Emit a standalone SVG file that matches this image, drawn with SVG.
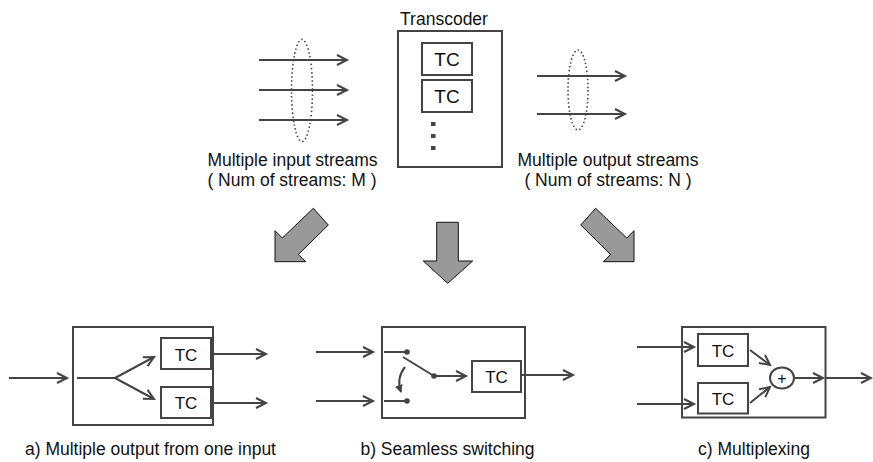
<svg xmlns="http://www.w3.org/2000/svg" width="873" height="462" viewBox="0 0 873 462">
<defs>
<style>
.ln{stroke:#444;stroke-width:2;fill:none}
.box{stroke:#444;stroke-width:2;fill:#fff}
.big{fill:#999;stroke:#111;stroke-width:1;stroke-linejoin:miter}
.dot{fill:#444}
.ell{stroke:#444;stroke-width:1.6;fill:none;stroke-dasharray:1.5 2.5}
text{font-family:"Liberation Sans",Arial,sans-serif;fill:#111}
.lbl{font-size:17.5px;text-anchor:middle}
.tc{font-size:17px;text-anchor:middle}
.tct{font-size:19px;text-anchor:middle}
</style>
<marker id="ah" markerUnits="userSpaceOnUse" markerWidth="14" markerHeight="14" refX="11" refY="6" orient="auto" viewBox="0 0 14 12">
<path d="M1,1 L11,6 L1,11" fill="none" stroke="#444" stroke-width="2"/>
</marker>
<marker id="ahs" markerUnits="userSpaceOnUse" markerWidth="10" markerHeight="10" refX="7" refY="4" orient="auto" viewBox="0 0 10 8">
<path d="M0,0 L8,4 L0,8 Z" fill="#444"/>
</marker>
</defs>

<g id="top-input-streams">
<g class="ln" marker-end="url(#ah)">
<line x1="259" y1="60" x2="347" y2="60"/>
<line x1="259" y1="90" x2="347" y2="90"/>
<line x1="259" y1="120" x2="347" y2="120"/>
</g>
<ellipse class="ell" cx="302" cy="90.5" rx="10.5" ry="51"/>
<text class="lbl" x="292.5" y="166">Multiple input streams</text>
<text class="lbl" x="292" y="186">( Num of streams: M )</text>
</g>

<g id="transcoder">
<text class="lbl" x="444" y="25">Transcoder</text>
<rect class="box" x="398" y="31" width="104" height="136"/>
<rect class="box" x="422" y="43" width="50" height="32"/>
<text class="tct" x="447" y="66">TC</text>
<rect class="box" x="422" y="80" width="50" height="32"/>
<text class="tct" x="447" y="103">TC</text>
<rect class="dot" x="431" y="122" width="4.5" height="4"/>
<rect class="dot" x="431" y="134" width="4.5" height="4"/>
<rect class="dot" x="431" y="146" width="4.5" height="4"/>
</g>

<g id="top-output-streams">
<g class="ln" marker-end="url(#ah)">
<line x1="537" y1="76" x2="625" y2="76"/>
<line x1="537" y1="114" x2="625" y2="114"/>
</g>
<ellipse class="ell" cx="578" cy="90" rx="10" ry="40"/>
<text class="lbl" x="608" y="166">Multiple output streams</text>
<text class="lbl" x="608" y="186">( Num of streams: N )</text>
</g>

<g id="big-arrows">
<polygon class="big" points="313.3,208.3 328.3,225 298.3,254.5 305.7,261.7 275,261.7 275,230.7 282.3,238"/>
<polygon class="big" points="436.7,222.3 458.3,222.3 458.3,261 472.7,261 447.7,283.3 423.3,261 436.7,261"/>
<polygon class="big" points="595.7,208.3 580.7,225 610.7,254.5 603.3,261.7 634,261.7 634,230.7 626.7,238"/>
</g>

<g id="case-a">
<rect class="box" x="73" y="327" width="140" height="98"/>
<rect class="box" x="161" y="338" width="50" height="31"/>
<text class="tc" x="186" y="361">TC</text>
<rect class="box" x="161" y="387" width="50" height="31"/>
<text class="tc" x="186" y="409">TC</text>
<text class="lbl" x="150.5" y="455">a) Multiple output from one input</text>
</g>

<g id="case-b">
<rect class="box" x="382" y="327" width="143" height="91"/>
<rect class="box" x="472" y="361" width="49" height="31"/>
<text class="tc" x="496.5" y="383">TC</text>
<circle class="dot" cx="407" cy="352" r="2.8"/>
<circle class="dot" cx="407" cy="401" r="2.8"/>
<circle class="dot" cx="434" cy="376" r="2.8"/>
<text class="lbl" x="447.5" y="455">b) Seamless switching</text>
</g>

<g id="case-c">
<rect class="box" x="682" y="327" width="143.5" height="90.5"/>
<rect class="box" x="698" y="334" width="50" height="32"/>
<text class="tc" x="723" y="357">TC</text>
<rect class="box" x="698" y="383" width="50" height="30.5"/>
<text class="tc" x="723" y="405">TC</text>
<ellipse class="box" cx="782" cy="378" rx="12" ry="10.5"/>
<text x="782" y="384" style="font-size:16px;text-anchor:middle">+</text>
<text class="lbl" x="754" y="455">c) Multiplexing</text>
</g>

<g id="connectors" class="ln">
<g marker-end="url(#ah)">
<line x1="9" y1="378" x2="67" y2="378"/>
<line x1="115" y1="378" x2="154" y2="357"/>
<line x1="115" y1="378" x2="154" y2="399"/>
<line x1="211" y1="354" x2="266" y2="354"/>
<line x1="211" y1="403" x2="266" y2="403"/>
<line x1="316" y1="352" x2="373" y2="352"/>
<line x1="316" y1="401" x2="373" y2="401"/>
<line x1="434" y1="376" x2="466" y2="376"/>
<line x1="521" y1="375" x2="573" y2="375"/>
<line x1="637" y1="347" x2="694" y2="347"/>
<line x1="637" y1="404" x2="694" y2="404"/>
<line x1="750" y1="350" x2="770" y2="365"/>
<line x1="750" y1="403" x2="770" y2="387"/>
<line x1="794" y1="378" x2="823" y2="378"/>
<line x1="826" y1="378" x2="871" y2="378"/>
</g>
<line x1="77" y1="378" x2="115" y2="378"/>
<line x1="384" y1="352" x2="407" y2="352"/>
<line x1="384" y1="401" x2="407" y2="401"/>
<line x1="403" y1="357" x2="434" y2="376"/>
<path d="M405,367 Q396,378 401,392" marker-end="url(#ahs)"/>
</g>
</svg>
